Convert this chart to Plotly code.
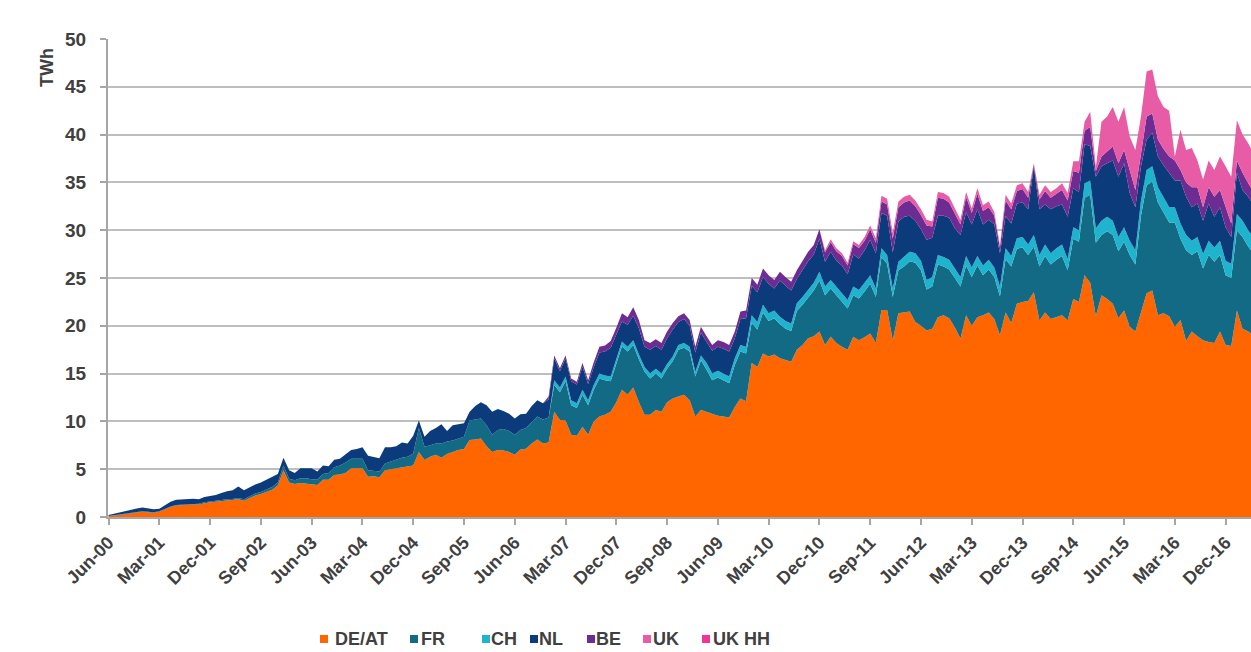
import pandas as pd
import plotly.graph_objects as go

# ---------------- data (TWh per month, Jun-00 ... May-17) ----------------
months = pd.date_range("2000-06-01", periods=204, freq="MS").strftime("%b-%y").tolist()

tick_labels = ["Jun-00", "Mar-01", "Dec-01", "Sep-02", "Jun-03", "Mar-04", "Dec-04",
               "Sep-05", "Jun-06", "Mar-07", "Dec-07", "Sep-08", "Jun-09", "Mar-10",
               "Dec-10", "Sep-11", "Jun-12", "Mar-13", "Dec-13", "Sep-14", "Jun-15",
               "Mar-16", "Dec-16"]

de_at = [
    0.10, 0.15, 0.25, 0.30, 0.38, 0.45, 0.55, 0.50, 0.45, 0.55,
    0.80, 1.05, 1.20, 1.25, 1.30, 1.30, 1.32, 1.45, 1.55, 1.60,
    1.65, 1.75, 1.75, 1.85, 1.70, 1.95, 2.25, 2.40, 2.60, 2.85,
    3.30, 4.90, 3.60, 3.45, 3.55, 3.50, 3.40, 3.35, 3.90, 3.90,
    4.40, 4.45, 4.60, 5.10, 5.10, 5.10, 4.20, 4.25, 4.15, 4.90,
    5.00, 5.10, 5.25, 5.30, 5.40, 6.80, 5.95, 6.30, 6.50, 6.20,
    6.60, 6.80, 7.00, 7.10, 8.05, 8.10, 8.20, 7.40, 6.80, 7.00,
    6.95, 6.80, 6.50, 7.05, 7.15, 7.70, 8.10, 7.70, 7.80, 11.0,
    10.15, 10.1, 8.6, 8.5, 9.45, 8.6, 10.0, 10.5, 10.7, 11.0,
    12.0, 13.3, 12.8, 13.55, 12.0, 10.7, 10.7, 11.2, 11.0, 12.0,
    12.4, 12.6, 12.8, 12.2, 10.5, 11.2, 11.0, 10.85, 10.6, 10.5,
    10.4, 11.5, 12.4, 12.1, 16.1, 15.7, 17.1, 16.8, 17.0, 16.6,
    16.4, 16.25, 17.5, 18.0, 18.7, 18.9, 19.4, 18.0, 18.85, 18.2,
    17.8, 17.5, 18.85, 18.5, 18.8, 19.2, 18.2, 21.65, 21.65, 18.5,
    21.3, 21.4, 21.5, 20.4, 20.0, 19.5, 19.7, 20.9, 21.1, 20.8,
    19.85, 18.65, 21.1, 20.0, 20.9, 21.1, 21.4, 20.7, 19.0, 21.4,
    20.3, 22.3, 22.5, 22.6, 23.5, 20.55, 21.4, 20.7, 20.9, 21.1,
    20.55, 22.8, 22.5, 25.3, 24.5, 21.0, 23.2, 22.8, 22.3, 20.8,
    21.6, 19.9, 19.4, 21.3, 23.4, 23.7, 21.1, 21.3, 21.0, 19.9,
    20.6, 18.4, 19.4, 18.9, 18.5, 18.3, 18.2, 19.4, 18.0, 17.9,
    21.6, 19.7, 19.4, 19.0,
]

fr = [
    0.00, 0.02, 0.02, 0.03, 0.03, 0.03, 0.04, 0.04, 0.04, 0.05,
    0.05, 0.05, 0.06, 0.06, 0.06, 0.07, 0.07, 0.08, 0.08, 0.09,
    0.10, 0.10, 0.12, 0.15, 0.15, 0.18, 0.20, 0.22, 0.25, 0.28,
    0.30, 0.50, 0.40, 0.40, 0.50, 0.55, 0.55, 0.55, 0.60, 0.70,
    0.80, 0.95, 1.10, 1.00, 1.00, 1.00, 0.70, 0.55, 0.60, 0.70,
    0.80, 0.90, 0.95, 1.00, 1.25, 2.50, 1.40, 1.20, 1.20, 1.50,
    1.30, 1.20, 1.20, 1.30, 2.05, 2.10, 2.10, 2.20, 1.80, 2.10,
    2.25, 2.20, 2.10, 2.05, 2.15, 2.20, 2.40, 2.50, 2.60, 2.80,
    2.9, 4.1, 3.1, 2.9, 3.35, 3.1, 3.3, 4.0, 3.6, 3.2,
    4.0, 4.55, 4.5, 4.45, 4.5, 4.5, 3.8, 3.8, 3.5, 3.5,
    3.9, 4.9, 4.9, 5.1, 4.2, 5.2, 4.4, 3.45, 4.0, 3.8,
    3.6, 4.4, 4.9, 5.0, 4.2, 3.9, 4.3, 3.7, 3.8, 3.55,
    3.3, 3.2, 4.05, 4.2, 4.25, 4.8, 5.35, 5.2, 5.05, 5.0,
    4.7, 4.3, 4.35, 4.35, 4.8, 5.2, 4.8, 5.55, 4.85, 4.5,
    4.5, 4.8, 5.25, 6.2, 5.8, 4.3, 4.4, 5.5, 5.1, 5.1,
    5.15, 5.45, 5.2, 5.1, 5.4, 4.2, 4.5, 4.4, 4.1, 5.6,
    5.9, 5.75, 5.7, 4.8, 4.8, 5.65, 5.9, 5.7, 6.0, 6.2,
    5.25, 6.3, 6.3, 8.1, 9.2, 7.7, 6.3, 7.1, 7.2, 7.0,
    7.2, 7.5, 7.0, 10.2, 11.3, 11.4, 11.8, 10.5, 9.8, 10.9,
    8.5, 9.5, 8.0, 8.9, 7.5, 9.1, 8.5, 8.0, 7.3, 7.1,
    8.4, 9.6, 8.9, 8.5,
]

ch = [
    0, 0, 0, 0, 0, 0, 0, 0, 0, 0,
    0, 0, 0, 0, 0, 0, 0, 0, 0, 0,
    0, 0, 0, 0, 0, 0, 0, 0, 0, 0,
    0, 0, 0, 0, 0, 0, 0, 0, 0, 0,
    0, 0, 0, 0, 0, 0, 0, 0, 0, 0,
    0, 0, 0, 0, 0, 0, 0, 0, 0, 0,
    0, 0, 0, 0, 0, 0, 0, 0, 0, 0,
    0, 0, 0, 0, 0, 0, 0, 0, 0, 0.5,
    0.5, 0.5, 0.5, 0.5, 0.5, 0.5, 0.5, 0.5, 0.5, 0.5,
    0.5, 0.5, 0.5, 0.5, 0.5, 0.5, 0.5, 0.5, 0.5, 0.5,
    0.5, 0.5, 0.5, 0.5, 0.5, 0.5, 0.7, 0.7, 0.7, 0.7,
    0.7, 0.7, 0.7, 0.7, 0.8, 0.8, 0.8, 0.8, 0.8, 0.8,
    0.8, 0.8, 0.8, 0.8, 0.8, 0.8, 0.9, 0.9, 0.9, 0.9,
    0.9, 0.9, 0.9, 0.9, 0.9, 0.9, 0.9, 0.9, 0.9, 0.9,
    0.9, 1.0, 1.0, 1.0, 1.0, 1.0, 1.0, 1.0, 1.0, 1.0,
    1.0, 1.0, 1.0, 1.0, 1.0, 1.0, 1.0, 1.0, 1.0, 1.1,
    1.1, 1.1, 1.1, 1.1, 1.2, 1.2, 1.2, 1.2, 1.2, 1.2,
    1.2, 1.2, 1.2, 1.5, 1.5, 1.5, 1.5, 1.5, 1.5, 1.5,
    1.5, 1.5, 1.5, 1.6, 1.6, 1.6, 1.6, 1.6, 1.6, 1.6,
    1.6, 1.6, 1.5, 1.5, 1.5, 1.5, 1.5, 1.5, 1.5, 1.5,
    1.7, 1.7, 1.7, 1.7,
]

nl = [
    0.10, 0.18, 0.23, 0.27, 0.34, 0.42, 0.41, 0.36, 0.31, 0.25,
    0.35, 0.50, 0.54, 0.54, 0.54, 0.53, 0.46, 0.57, 0.57, 0.61,
    0.75, 0.85, 0.93, 1.20, 0.95, 0.97, 0.95, 0.98, 1.05, 1.07,
    0.90, 0.80, 0.90, 0.75, 1.05, 1.05, 1.15, 0.85, 0.90, 0.70,
    0.80, 0.70, 0.90, 0.90, 1.00, 1.20, 1.50, 1.50, 1.40, 1.70,
    1.50, 1.40, 1.60, 1.40, 1.85, 0.80, 1.05, 1.50, 1.60, 2.00,
    1.10, 1.60, 1.50, 1.40, 0.90, 1.40, 1.70, 2.10, 2.40, 2.20,
    1.90, 1.80, 1.70, 1.65, 1.50, 1.70, 1.70, 1.70, 1.90, 2.30,
    1.7, 1.9, 2.0, 1.95, 2.45, 1.7, 1.9, 2.2, 2.5, 3.0,
    2.6, 2.1, 2.3, 2.55, 2.75, 2.1, 2.5, 2.4, 2.5, 2.7,
    2.8, 2.4, 2.5, 2.2, 2.0, 2.4, 2.2, 2.4, 2.5, 2.6,
    2.6, 2.1, 2.7, 3.0, 3.1, 3.1, 2.9, 3.1, 2.3, 3.8,
    3.7, 3.45, 2.55, 2.9, 3.0, 2.95, 3.45, 2.6, 2.95, 2.7,
    2.9, 2.7, 3.35, 3.3, 3.4, 3.7, 3.7, 3.7, 4.1, 3.8,
    4.2, 4.2, 3.75, 3.4, 3.3, 4.2, 4.1, 4.1, 4.3, 4.4,
    4.2, 4.4, 4.6, 4.5, 4.9, 4.3, 4.2, 4.5, 3.5, 3.4,
    3.4, 3.65, 3.6, 3.7, 7.2, 4.8, 4.2, 4.6, 4.4, 4.2,
    4.4, 4.1, 4.0, 4.1, 3.6, 5.4, 5.7, 5.6, 6.3, 6.3,
    6.7, 5.0, 4.5, 3.6, 3.2, 3.5, 3.2, 3.4, 3.6, 2.8,
    4.5, 4.0, 3.5, 3.5, 3.5, 3.9, 3.2, 3.5, 3.5, 2.8,
    4.3, 3.2, 3.5, 3.4,
]

be = [
    0, 0, 0, 0, 0, 0, 0, 0, 0, 0,
    0, 0, 0, 0, 0, 0, 0, 0, 0, 0,
    0, 0, 0, 0, 0, 0, 0, 0, 0, 0,
    0, 0, 0, 0, 0, 0, 0, 0, 0, 0,
    0, 0, 0, 0, 0, 0, 0, 0, 0, 0,
    0, 0, 0, 0, 0, 0, 0, 0, 0, 0,
    0, 0, 0, 0, 0, 0, 0, 0, 0, 0,
    0, 0, 0, 0, 0, 0, 0, 0, 0.3, 0.3,
    0.3, 0.3, 0.3, 0.3, 0.35, 0.4, 0.5, 0.6, 0.65, 0.7,
    0.7, 0.85, 0.8, 0.9, 0.85, 0.7, 0.7, 0.7, 0.7, 0.7,
    0.7, 0.6, 0.6, 0.6, 0.6, 0.6, 0.6, 0.6, 0.7, 0.7,
    0.7, 0.7, 0.8, 0.8, 0.8, 0.8, 0.9, 0.9, 0.9, 0.9,
    0.9, 0.9, 0.9, 0.9, 1.0, 1.0, 1.0, 1.0, 1.0, 1.0,
    1.0, 0.9, 1.1, 1.1, 1.0, 1.1, 1.1, 1.2, 1.2, 1.4,
    1.5, 1.5, 1.6, 1.5, 1.5, 1.5, 1.2, 1.9, 1.8, 1.6,
    1.5, 1.1, 1.6, 1.2, 1.6, 1.4, 1.3, 0.9, 0.6, 1.6,
    1.5, 1.3, 1.4, 1.2, 0.2, 1.0, 1.4, 1.2, 1.3, 1.5,
    1.7, 1.8, 2.0, 1.4, 2.0, 0.6, 1.0, 1.2, 1.45, 1.4,
    1.4, 2.4, 1.8, 1.3, 2.4, 2.0, 1.8, 1.7, 1.7, 2.1,
    1.1, 1.5, 2.1, 1.7, 1.4, 1.7, 2.1, 1.8, 2.1, 1.4,
    1.3, 1.8, 1.4, 1.4,
]

uk = [
    0, 0, 0, 0, 0, 0, 0, 0, 0, 0,
    0, 0, 0, 0, 0, 0, 0, 0, 0, 0,
    0, 0, 0, 0, 0, 0, 0, 0, 0, 0,
    0, 0, 0, 0, 0, 0, 0, 0, 0, 0,
    0, 0, 0, 0, 0, 0, 0, 0, 0, 0,
    0, 0, 0, 0, 0, 0, 0, 0, 0, 0,
    0, 0, 0, 0, 0, 0, 0, 0, 0, 0,
    0, 0, 0, 0, 0, 0, 0, 0, 0, 0,
    0, 0, 0, 0, 0, 0, 0, 0, 0, 0,
    0, 0, 0, 0, 0, 0, 0, 0, 0, 0,
    0, 0, 0, 0, 0, 0, 0, 0, 0, 0,
    0, 0, 0, 0, 0, 0, 0, 0, 0, 0,
    0, 0, 0, 0, 0, 0, 0, 0.2, 0.3, 0.3,
    0.3, 0.3, 0.3, 0.3, 0.4, 0.4, 0.45, 0.6, 0.6, 0.6,
    0.6, 0.6, 0.6, 0.6, 0.6, 0.6, 0.5, 0.6, 0.6, 0.6,
    0.6, 0.5, 0.5, 0.5, 0.6, 0.6, 0.6, 0.4, 0.25, 0.6,
    0.6, 0.6, 0.6, 0.6, 0.1, 0.5, 0.6, 0.6, 0.6, 0.7,
    0.8, 1.0, 1.2, 0.95, 1.6, 0.4, 3.65, 3.7, 4.15, 4.35,
    4.5, 3.5, 4.2, 3.9, 4.7, 4.6, 4.5, 4.4, 4.8, 0.4,
    4.2, 3.4, 4.1, 2.8, 2.9, 2.8, 2.8, 3.5, 4.3, 4.9,
    4.2, 4.0, 4.2, 4.0,
]

uk_hh = [
    0, 0, 0, 0, 0, 0, 0, 0, 0, 0,
    0, 0, 0, 0, 0, 0, 0, 0, 0, 0,
    0, 0, 0, 0, 0, 0, 0, 0, 0, 0,
    0, 0, 0, 0, 0, 0, 0, 0, 0, 0,
    0, 0, 0, 0, 0, 0, 0, 0, 0, 0,
    0, 0, 0, 0, 0, 0, 0, 0, 0, 0,
    0, 0, 0, 0, 0, 0, 0, 0, 0, 0,
    0, 0, 0, 0, 0, 0, 0, 0, 0, 0,
    0, 0, 0, 0, 0, 0, 0, 0, 0, 0,
    0, 0, 0, 0, 0, 0, 0, 0, 0, 0,
    0, 0, 0, 0, 0, 0, 0, 0, 0, 0,
    0, 0, 0, 0, 0, 0, 0, 0, 0, 0,
    0, 0, 0, 0, 0, 0, 0, 0, 0, 0,
    0, 0, 0, 0, 0, 0, 0, 0, 0, 0,
    0, 0, 0, 0, 0, 0, 0, 0, 0, 0,
    0, 0, 0, 0, 0, 0, 0, 0, 0, 0,
    0, 0, 0, 0, 0, 0, 0, 0, 0, 0,
    0, 0, 0, 0, 0, 0, 0, 0, 0, 0,
    0, 0, 0, 0, 0, 0, 0, 0, 0, 0,
    0, 0, 0, 0, 0, 0, 0, 0, 0, 0,
    0, 0, 0, 0,
]

series_names = ["DE/AT", "FR", "CH", "NL", "BE", "UK", "UK HH"]
series_values = [de_at, fr, ch, nl, be, uk, uk_hh]
series_colors = ["#FF6600", "#136A85", "#1FB4CD", "#0C3B7C", "#6C2C92", "#E85CA6", "#F2349A"]

# ---------------- layout geometry ----------------
TXT = "#404040"
AX = "#A6A6A6"
FONT = "Liberation Sans, Arial, sans-serif"
W, H = 1251, 652
PL, PT, PW, PH = 108, 39, 1143, 478          # plot area in px


def px_x(sx):
    return (sx - PL) / PW


def px_y(sy):
    return (PT + PH - sy) / PH


fig = go.Figure()
for name, vals, col in zip(series_names, series_values, series_colors):
    fig.add_trace(go.Scatter(
        x=months, y=vals, name=name, mode="lines",
        line=dict(width=0, color=col), fillcolor=col,
        stackgroup="one", showlegend=False, hoverinfo="x+y+name",
    ))

# legend (square swatch + label), laid out like the original
legend_sq_left = [320, 410, 482, 530, 587, 643, 702]
legend_txt_left = [334, 420, 490, 538, 595, 652, 712]
LEG_CY, SQ = 639, 8
shapes, annotations = [], []
for name, col, sx, tx in zip(series_names, series_colors, legend_sq_left, legend_txt_left):
    shapes.append(dict(type="rect", xref="paper", yref="paper",
                       x0=px_x(sx), x1=px_x(sx + SQ),
                       y0=px_y(LEG_CY + SQ / 2), y1=px_y(LEG_CY - SQ / 2),
                       fillcolor=col, line=dict(width=0)))
    annotations.append(dict(text=name, xref="paper", yref="paper",
                            x=px_x(tx), y=px_y(LEG_CY), xanchor="left", yanchor="middle",
                            showarrow=False, borderpad=0,
                            font=dict(size=18, weight="bold", color=TXT, family=FONT)))

annotations.append(dict(
    text="TWh", x=px_x(47), y=px_y(68), xref="paper", yref="paper",
    xanchor="center", yanchor="middle", showarrow=False, textangle=-90,
    font=dict(size=18, weight="bold", color=TXT, family=FONT),
))

fig.update_layout(
    width=W, height=H,
    margin=dict(l=PL, r=W - PL - PW, t=PT, b=H - PT - PH),
    paper_bgcolor="white", plot_bgcolor="white",
    font=dict(family=FONT, color=TXT),
    showlegend=False,
    shapes=shapes,
    annotations=annotations,
)

fig.update_xaxes(
    type="category", range=[-0.1, 202.5], automargin=False,
    tickmode="array", tickvals=tick_labels, ticktext=tick_labels,
    tickangle=-45, ticks="outside", ticklen=6, tickwidth=2, tickcolor=AX,
    showline=True, linecolor=AX, linewidth=2, showgrid=False, zeroline=False,
    tickfont=dict(size=18, weight="bold", color=TXT, family=FONT),
)
fig.update_yaxes(
    range=[0, 50], dtick=5, tick0=0, automargin=False,
    ticks="outside", ticklen=6, tickwidth=2, tickcolor=AX,
    showline=True, linecolor=AX, linewidth=2,
    showgrid=True, gridcolor="#BEBEBE", gridwidth=1.5, zeroline=False,
    ticklabelstandoff=10,
    tickfont=dict(size=19, weight="bold", color=TXT, family=FONT),
)

fig.write_html(
    "out.html",
    config={"displayModeBar": False},
    post_script="document.body.style.margin='0';document.body.style.overflow='hidden';",
)
